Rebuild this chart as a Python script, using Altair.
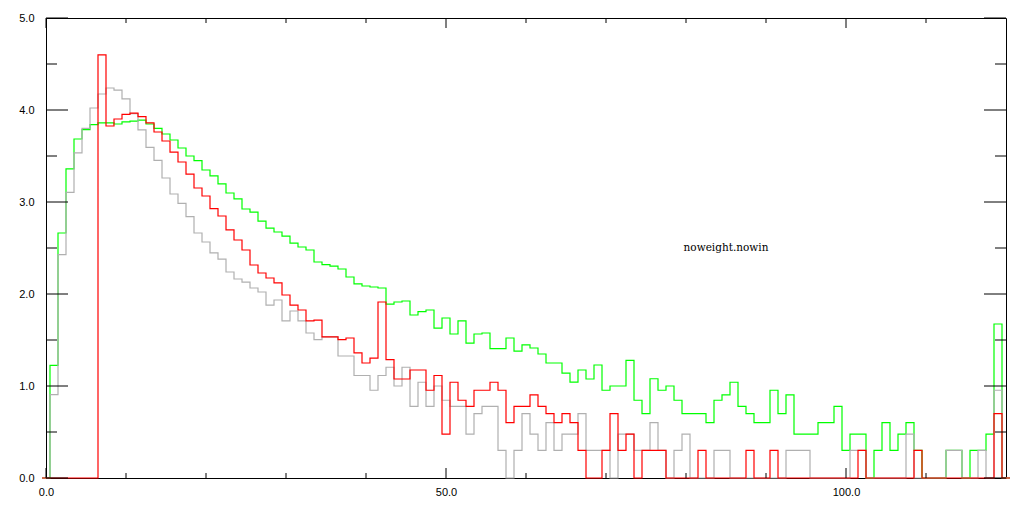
import altair as alt
import pandas as pd

# bin centres 0..120 (unit bins)
bins = list(range(121))

green = [0, 1.225, 2.663, 3.359, 3.685, 3.786, 3.841, 3.859, 3.859, 3.848,
         3.870, 3.880, 3.891, 3.848, 3.801, 3.739, 3.674, 3.587, 3.500, 3.449,
         3.348, 3.283, 3.196, 3.098, 3.033, 2.924, 2.891, 2.793, 2.717, 2.674,
         2.630, 2.554, 2.511, 2.478, 2.348, 2.319, 2.304, 2.272, 2.185, 2.109,
         2.087, 2.076, 2.065, 1.891, 1.913, 1.924, 1.772, 1.808, 1.826, 1.630,
         1.739, 1.565, 1.707, 1.467, 1.565, 1.576, 1.406, 1.406, 1.522, 1.380,
         1.446, 1.413, 1.348, 1.250, 1.250, 1.141, 1.043, 1.174, 1.076, 1.228,
         0.954, 1.000, 1.000, 1.279, 0.845, 0.699, 1.079, 0.954, 1.000, 0.845,
         0.699, 0.699, 0.699, 0.602, 0.845, 0.903, 1.041, 0.778, 0.699, 0.602,
         0.602, 0.954, 0.699, 0.903, 0.477, 0.477, 0.477, 0.602, 0.602, 0.778,
         0.301, 0.477, 0.477, 0, 0.301, 0.602, 0.301, 0.477, 0.602, 0.301,
         0, 0, 0, 0.301, 0.301, 0, 0.301, 0.301, 0.477, 1.674,
         0]

red = [0, 0, 0, 0, 0, 0, 0, 4.600, 3.826, 3.902,
       3.953, 3.967, 3.928, 3.859, 3.761, 3.663, 3.543, 3.435, 3.304, 3.152,
       3.065, 2.928, 2.848, 2.696, 2.587, 2.478, 2.315, 2.228, 2.174, 2.120,
       1.989, 1.880, 1.826, 1.707, 1.717, 1.533, 1.533, 1.504, 1.522, 1.359,
       1.250, 1.304, 1.913, 1.286, 1.076, 1.076, 1.174, 1.174, 0.954, 1.114,
       0.477, 1.041, 0.845, 0.778, 0.954, 0.954, 1.041, 0.954, 0.602, 0.778,
       0.778, 0.903, 0.778, 0.699, 0.602, 0.699, 0.602, 0.301, 0, 0,
       0.301, 0.699, 0.301, 0.477, 0, 0.301, 0.301, 0.301, 0, 0,
       0, 0, 0.301, 0, 0, 0, 0, 0, 0.301, 0,
       0, 0.301, 0, 0, 0, 0, 0, 0, 0, 0,
       0, 0, 0.301, 0, 0, 0, 0, 0, 0, 0.301,
       0, 0, 0, 0, 0, 0, 0, 0, 0, 0.699,
       0]

gray = [0, 0.906, 2.428, 3.105, 3.533, 3.801, 4.022, 4.174, 4.239, 4.217,
        4.120, 3.960, 3.783, 3.594, 3.453, 3.261, 3.087, 2.986, 2.841, 2.663,
        2.565, 2.446, 2.380, 2.239, 2.163, 2.130, 2.065, 2.022, 1.880, 1.935,
        1.707, 1.815, 1.707, 1.576, 1.504, 1.533, 1.533, 1.326, 1.326, 1.114,
        1.114, 0.954, 1.114, 1.204, 1.000, 1.204, 0.778, 1.041, 0.778, 1.000,
        0.845, 0.778, 0.778, 0.477, 0.699, 0.778, 0.778, 0.301, 0, 0.301,
        0.699, 0.477, 0.301, 0.602, 0.301, 0.477, 0.477, 0.699, 0.301, 0.301,
        0.301, 0, 0.477, 0.477, 0.301, 0.301, 0.602, 0.301, 0, 0.301,
        0.477, 0, 0, 0, 0.301, 0.301, 0, 0, 0, 0,
        0, 0, 0, 0.301, 0.301, 0.301, 0, 0, 0, 0,
        0, 0.301, 0.301, 0, 0, 0, 0, 0, 0.477, 0,
        0, 0, 0, 0.301, 0.301, 0, 0, 0.301, 0, 0.954,
        0]

series_names = ["green", "gray", "red"]
series_colors = ["#00ff00", "#b0b0b0", "#ff0000"]
series_values = [green, gray, red]

y_major = [0, 1, 2, 3, 4, 5]
y_minor = [0.5, 1.5, 2.5, 3.5, 4.5]
x_major = [0, 50, 100]
x_minor = [10, 20, 30, 40, 60, 70, 80, 90, 110]

annotation = pd.DataFrame({"x": [85], "y": [2.5], "label": ["noweight.nowin"]})

W, H = 960, 460

rows = []
for name, vals in zip(series_names, series_values):
    for b, v in zip(bins, vals):
        rows.append({"series": name, "edge": b - 0.5, "value": v})
    rows.append({"series": name, "edge": bins[-1] + 0.5, "value": vals[-1]})
df = pd.DataFrame(rows)

xscale = alt.Scale(domain=[0, 120], nice=False, zero=False)
yscale = alt.Scale(domain=[0, 5], nice=False, zero=False)

label_font = "Liberation Sans"

x_axis = alt.Axis(values=x_major, format=".1f", ticks=False, grid=False,
                  title=None, labelFont=label_font, labelFontSize=11,
                  labelColor="black", labelPadding=8, labelFlush=False,
                  domainColor="black", domainWidth=1, labelOverlap=False)
y_axis = alt.Axis(values=y_major, format=".1f", ticks=False, grid=False,
                  title=None, labelFont=label_font, labelFontSize=11,
                  labelColor="black", labelPadding=12, labelFlush=False,
                  domainColor="black", domainWidth=1, labelOverlap=False)


def X(field):
    return alt.X(field, scale=xscale, axis=x_axis, title=None)


def Y(field):
    return alt.Y(field, scale=yscale, axis=y_axis, title=None)


layers = []
for name, color in zip(series_names, series_colors):
    layers.append(
        alt.Chart(df).transform_filter(alt.datum.series == name)
        .mark_line(interpolate="step-after", color=color, strokeWidth=1.2)
        .encode(x=X("edge:Q"), y=Y("value:Q"))
    )


def ytick(vals, x0, x1):
    return alt.Chart(pd.DataFrame({"v": vals})).mark_rule(color="black", strokeWidth=1).encode(
        y=Y("v:Q"), x=alt.value(x0), x2=alt.value(x1))


def xtick(vals, y0, y1):
    return alt.Chart(pd.DataFrame({"v": vals})).mark_rule(color="black", strokeWidth=1).encode(
        x=X("v:Q"), y=alt.value(y0), y2=alt.value(y1))


ticks = [
    ytick(y_major, 0, 22), ytick(y_minor, 0, 11),
    ytick(y_major, W, W - 22), ytick(y_minor, W, W - 11),
    xtick(x_major, H, H - 10), xtick(x_minor, H, H - 5),
    xtick(x_major, 0, 10), xtick(x_minor, 0, 5),
]

text = alt.Chart(annotation).mark_text(font="DejaVu Serif", fontSize=10.5, align="center",
                                       baseline="middle", color="black").encode(
    x=X("x:Q"), y=Y("y:Q"), text="label:N")

chart = alt.layer(*layers, *ticks, text).properties(
    width=W, height=H,
    padding={"left": 38, "top": 10, "right": 8, "bottom": 26},
    autosize=alt.AutoSizeParams(type="none"),
    background="white",
).configure_view(stroke="black", strokeWidth=1)

chart.save("out.html", embed_options={"renderer": "svg", "actions": False})
